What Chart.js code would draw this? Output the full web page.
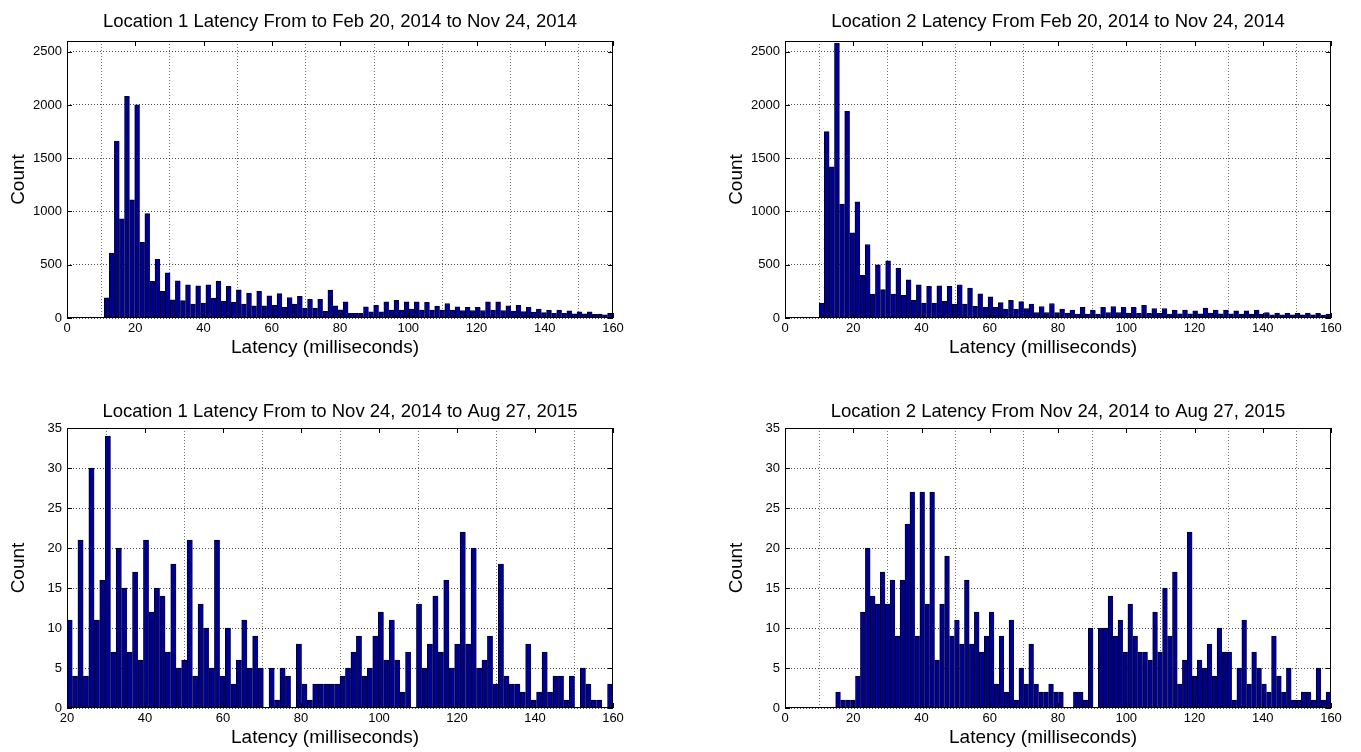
<!DOCTYPE html>
<html>
<head>
<meta charset="utf-8">
<script src="https://cdn.jsdelivr.net/npm/chart.js@4.4.0/dist/chart.umd.min.js"></script>
<style>
  html, body { margin: 0; padding: 0; background: #fff; overflow: hidden; }
  #wrap { position: relative; width: 1361px; height: 752px; }
  canvas { position: absolute; }
</style>
</head>
<body>
<div id="wrap">
  <canvas id="c1" width="680" height="362" style="left:0;top:0"></canvas>
  <canvas id="c2" width="643" height="362" style="left:718px;top:0"></canvas>
  <canvas id="c3" width="680" height="365" style="left:0;top:387px"></canvas>
  <canvas id="c4" width="643" height="365" style="left:718px;top:387px"></canvas>
</div>
<script>
// histogram counts, 100 bins each
const loc1Early = [
  190, 610, 1660, 930, 2080, 1110, 2000, 710, 980, 345,
  550, 250, 425, 170, 350, 163, 312, 131, 303, 140,
  312, 187, 344, 156, 297, 147, 265, 131, 234, 115,
  250, 114, 207, 120, 229, 99, 192, 130, 204, 93,
  176, 93, 176, 62, 263, 114, 77, 151, 45, 45,
  45, 105, 59, 120, 59, 151, 74, 167, 74, 151,
  83, 151, 74, 148, 74, 111, 74, 136, 74, 105,
  70, 99, 70, 99, 70, 151, 74, 151, 70, 114,
  65, 120, 60, 99, 55, 83, 50, 74, 45, 74,
  45, 68, 40, 59, 40, 59, 35, 37, 30, 43
];
const loc2Early = [
  140, 1750, 1420, 2580, 1070, 1940, 800, 1090, 400, 690,
  225, 500, 266, 537, 225, 469, 212, 359, 166, 312,
  141, 297, 141, 303, 156, 297, 131, 312, 131, 281,
  109, 228, 99, 198, 99, 145, 83, 167, 83, 154,
  89, 130, 52, 108, 52, 136, 52, 83, 46, 74,
  37, 99, 37, 74, 37, 99, 52, 108, 52, 99,
  46, 99, 43, 120, 43, 89, 43, 89, 37, 74,
  40, 74, 40, 68, 40, 93, 46, 74, 40, 74,
  40, 68, 37, 68, 37, 74, 37, 52, 30, 46,
  30, 43, 30, 43, 30, 46, 30, 43, 28, 37
];
const loc1Late = [
  11, 4, 21, 4, 30, 11, 16, 34, 7, 20,
  15, 7, 17, 6, 21, 12, 15, 14, 7, 18,
  5, 6, 21, 4, 13, 10, 5, 21, 4, 10,
  3, 6, 11, 5, 9, 5, 0, 5, 1, 5,
  4, 0, 8, 3, 1, 3, 3, 3, 3, 3,
  4, 5, 7, 9, 4, 5, 9, 12, 6, 11,
  6, 2, 7, 0, 13, 5, 8, 14, 7, 16,
  5, 8, 22, 8, 20, 5, 6, 9, 3, 18,
  4, 3, 3, 2, 8, 1, 2, 7, 2, 4,
  4, 1, 4, 0, 5, 3, 1, 1, 0, 3
];
const loc2Late = [
  2, 1, 1, 1, 4, 12, 20, 14, 13, 17,
  13, 16, 9, 16, 23, 27, 9, 27, 13, 27,
  6, 13, 19, 9, 11, 8, 16, 8, 12, 7,
  9, 12, 3, 9, 2, 11, 1, 5, 3, 8,
  3, 2, 2, 3, 2, 2, 0, 0, 2, 2,
  1, 10, 0, 10, 10, 14, 9, 11, 7, 13,
  9, 7, 7, 6, 12, 7, 15, 9, 17, 3,
  6, 22, 4, 6, 5, 8, 4, 10, 7, 7,
  1, 5, 11, 3, 7, 5, 3, 2, 9, 4,
  2, 5, 1, 1, 2, 2, 1, 5, 1, 2
];

// bin layout: first edge and width of the 100 bins
const binStarts = [10.9, 10, 20, 14.85];
const binWidths = [1.49, 1.5, 1.4, 1.4515];

// tick labels
const xTicksFull = [0, 20, 40, 60, 80, 100, 120, 140, 160];
const xTicksFrom20 = [20, 40, 60, 80, 100, 120, 140, 160];
const yTicksEarly = [0, 500, 1000, 1500, 2000, 2500];
const yTicksLate = [0, 5, 10, 15, 20, 25, 30, 35];

const titles = [
  'Location 1 Latency From to Feb 20, 2014 to Nov 24, 2014',
  'Location 2 Latency From Feb 20, 2014 to Nov 24, 2014',
  'Location 1 Latency From to Nov 24, 2014 to Aug 27, 2015',
  'Location 2 Latency From Nov 24, 2014 to Aug 27, 2015'
];
const xLabel = 'Latency (milliseconds)';
const yLabel = 'Count';

const FONT = '"Liberation Sans", Arial, Helvetica, sans-serif';
const BAR_FILL = '#00008f';

// black box plus inward tick marks, like matlab axes; x label sits a bit left of centre
const frame = {
  id: 'frame',
  afterDatasetsDraw(chart) {
    const { ctx, chartArea: a, scales } = chart;
    ctx.save();
    ctx.strokeStyle = '#000';
    ctx.lineWidth = 1;
    ctx.beginPath();
    scales.x.ticks.forEach(t => {
      const px = Math.round(scales.x.getPixelForValue(t.value)) + 0.5;
      ctx.moveTo(px, a.bottom); ctx.lineTo(px, a.bottom - 5);
      ctx.moveTo(px, a.top); ctx.lineTo(px, a.top + 5);
    });
    scales.y.ticks.forEach(t => {
      const py = Math.round(scales.y.getPixelForValue(t.value)) + 0.5;
      ctx.moveTo(a.left, py); ctx.lineTo(a.left + 5, py);
      ctx.moveTo(a.right, py); ctx.lineTo(a.right - 5, py);
    });
    ctx.stroke();
    ctx.strokeRect(Math.round(a.left) + 0.5, Math.round(a.top) + 0.5,
                   Math.round(a.width) - 1, Math.round(a.height) - 1);

    ctx.fillStyle = '#000';
    ctx.font = '19px ' + FONT;
    ctx.textAlign = 'center';
    ctx.textBaseline = 'middle';
    ctx.fillText(xLabel, (a.left + a.right) / 2 - 15, a.bottom + 30);
    ctx.restore();
  }
};

function makeChart(id, n, counts, o) {
  const pts = counts.map((c, i) => ({ x: binStarts[n] + binWidths[n] * (i + 0.5), y: c }));
  return new Chart(document.getElementById(id), {
    type: 'bar',
    data: {
      datasets: [{
        data: pts,
        backgroundColor: BAR_FILL,
        borderColor: '#000',
        borderWidth: { left: 1, top: 1, right: 0, bottom: 0 },
        borderSkipped: false,
        barPercentage: 1,
        categoryPercentage: 1
      }]
    },
    options: {
      responsive: false,
      animation: false,
      layout: { padding: { left: 0, top: 0, right: o.padRight, bottom: 0 } },
      plugins: {
        legend: { display: false },
        tooltip: { enabled: false },
        title: {
          display: true,
          fullSize: false,
          text: titles[n],
          color: '#000',
          font: { family: FONT, size: 18.5, weight: 'normal', lineHeight: 1.2 },
          padding: { top: o.titleTop, bottom: 41 - o.titleTop - 22.2 }
        }
      },
      scales: {
        x: {
          type: 'linear',
          min: o.xTicks[0], max: 160,
          offset: false,
          ticks: { color: '#000', padding: 3, font: { family: FONT, size: 13 } },
          grid: { color: 'rgba(0,0,0,0.55)', drawTicks: false },
          border: { display: false, dash: [1, 2] },
          afterBuildTicks(s) { s.ticks = o.xTicks.map(v => ({ value: v })); },
          afterFit(s) { s.height = 44; }
        },
        y: {
          min: 0, max: o.yMax,
          ticks: {
            color: '#000', padding: 5, font: { family: FONT, size: 13 },
            callback: v => String(v)
          },
          grid: { color: 'rgba(0,0,0,0.7)', drawTicks: false },
          border: { display: false, dash: [1, 2] },
          title: {
            display: true, text: yLabel, color: '#000',
            font: { family: FONT, size: 19, lineHeight: 1.2 },
            padding: { top: 7, bottom: 0 }
          },
          afterBuildTicks(s) { s.ticks = o.yTicks.map(v => ({ value: v })); },
          afterFit(s) { s.width = 67; }
        }
      }
    },
    plugins: [frame]
  });
}

makeChart('c1', 0, loc1Early, { padRight: 67, titleTop: 10.5, xTicks: xTicksFull, yMax: 2600, yTicks: yTicksEarly });
makeChart('c2', 1, loc2Early, { padRight: 30, titleTop: 10.5, xTicks: xTicksFull, yMax: 2600, yTicks: yTicksEarly });
makeChart('c3', 2, loc1Late, { padRight: 67, titleTop: 13.5, xTicks: xTicksFrom20, yMax: 35, yTicks: yTicksLate });
makeChart('c4', 3, loc2Late, { padRight: 30, titleTop: 13.5, xTicks: xTicksFull, yMax: 35, yTicks: yTicksLate });
</script>
</body>
</html>
